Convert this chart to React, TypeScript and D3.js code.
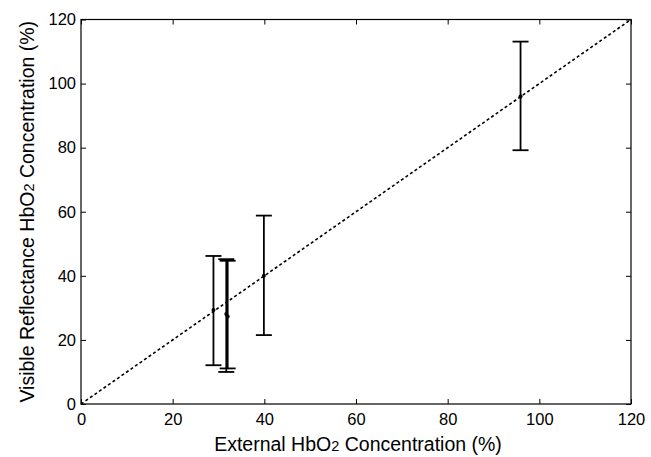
import React, { useEffect, useRef } from "react";
import * as d3 from "d3";

// external vs visible reflectance HbO2 (%)
const externalHbO2 = [28.9, 31.7, 32.0, 39.9, 95.9];
const visibleHbO2 = [29.3, 28.1, 27.3, 40.0, 96.0];
const errLow = [12.1, 10.0, 11.1, 21.5, 79.2];
const errHigh = [46.2, 45.2, 44.7, 58.8, 113.1];
const tickValues = [0, 20, 40, 60, 80, 100, 120];
const identityLine = [0, 120];

export default function App() {
  const svgRef = useRef<SVGSVGElement>(null);
  const width = 651;
  const height = 457;

  useEffect(() => {
    const svg = d3.select(svgRef.current);
    svg.selectAll("*").remove();

    const margin = { top: 19.5, right: 20, bottom: 53, left: 81 };
    const innerWidth = width - margin.left - margin.right;
    const innerHeight = height - margin.top - margin.bottom;
    const font = "'Liberation Sans', Arial, Helvetica, sans-serif";

    const x = d3.scaleLinear().domain([0, 120]).range([0, innerWidth]);
    const y = d3.scaleLinear().domain([0, 120]).range([innerHeight, 0]);

    const g = svg
      .append("g")
      .attr("transform", `translate(${margin.left},${margin.top})`);

    // ticks point inward on all four sides
    const styleAxis = (sel) => {
      sel.select(".domain").remove();
      sel.selectAll("line").attr("stroke", "#000").attr("stroke-width", 1);
      sel
        .selectAll("text")
        .attr("font-family", font)
        .attr("font-size", 16.5)
        .attr("fill", "#000");
    };

    g.append("g")
      .attr("transform", `translate(0,${innerHeight})`)
      .call(d3.axisBottom(x).tickValues(tickValues).tickSizeInner(-5).tickSizeOuter(0).tickPadding(9))
      .call(styleAxis);
    g.append("g")
      .call(d3.axisLeft(y).tickValues(tickValues).tickSizeInner(-5).tickSizeOuter(0).tickPadding(5))
      .call(styleAxis);
    g.append("g")
      .call(d3.axisTop(x).tickValues(tickValues).tickSizeInner(-5).tickSizeOuter(0).tickFormat(() => ""))
      .call(styleAxis);
    g.append("g")
      .attr("transform", `translate(${innerWidth},0)`)
      .call(d3.axisRight(y).tickValues(tickValues).tickSizeInner(-5).tickSizeOuter(0).tickFormat(() => ""))
      .call(styleAxis);

    g.append("rect")
      .attr("width", innerWidth)
      .attr("height", innerHeight)
      .attr("fill", "none")
      .attr("stroke", "#000")
      .attr("stroke-width", 1.2);

    // identity line
    const line = d3
      .line<number>()
      .x((d) => x(d))
      .y((d) => y(d));
    g.append("path")
      .datum(identityLine)
      .attr("fill", "none")
      .attr("stroke", "#000")
      .attr("stroke-width", 1.6)
      .attr("stroke-dasharray", "3,2.5")
      .attr("d", line);

    // error bars
    const cap = 8;
    const bars = g
      .selectAll(".err")
      .data(externalHbO2.map((v, i) => ({ x: v, y: visibleHbO2[i], lo: errLow[i], hi: errHigh[i] })))
      .join("g")
      .attr("class", "err");
    bars
      .append("line")
      .attr("x1", (d) => x(d.x))
      .attr("x2", (d) => x(d.x))
      .attr("y1", (d) => y(d.lo))
      .attr("y2", (d) => y(d.hi))
      .attr("stroke", "#000")
      .attr("stroke-width", 1.8);
    bars
      .append("line")
      .attr("x1", (d) => x(d.x) - cap)
      .attr("x2", (d) => x(d.x) + cap)
      .attr("y1", (d) => y(d.hi))
      .attr("y2", (d) => y(d.hi))
      .attr("stroke", "#000")
      .attr("stroke-width", 1.8);
    bars
      .append("line")
      .attr("x1", (d) => x(d.x) - cap)
      .attr("x2", (d) => x(d.x) + cap)
      .attr("y1", (d) => y(d.lo))
      .attr("y2", (d) => y(d.lo))
      .attr("stroke", "#000")
      .attr("stroke-width", 1.8);
    bars
      .append("circle")
      .attr("cx", (d) => x(d.x))
      .attr("cy", (d) => y(d.y))
      .attr("r", 2)
      .attr("fill", "#000");

    // axis labels
    const xl = svg
      .append("text")
      .attr("x", 358)
      .attr("y", 451)
      .attr("text-anchor", "middle")
      .attr("font-family", font)
      .attr("font-size", 19.5)
      .attr("fill", "#000");
    xl.append("tspan").text("External HbO");
    xl.append("tspan").attr("font-size", 14.5).text("2");
    xl.append("tspan").text(" Concentration (%)");

    const yl = svg
      .append("text")
      .attr("transform", `translate(34,${margin.top + innerHeight / 2}) rotate(-90)`)
      .attr("text-anchor", "middle")
      .attr("font-family", font)
      .attr("font-size", 19.5)
      .attr("fill", "#000");
    yl.append("tspan").text("Visible Reflectance HbO");
    yl.append("tspan").attr("font-size", 14.5).text("2");
    yl.append("tspan").text(" Concentration (%)");
  }, []);

  return (
    <svg
      ref={svgRef}
      width={width}
      height={height}
      style={{ position: "absolute", left: 0, top: 0, background: "#fff" }}
    />
  );
}
